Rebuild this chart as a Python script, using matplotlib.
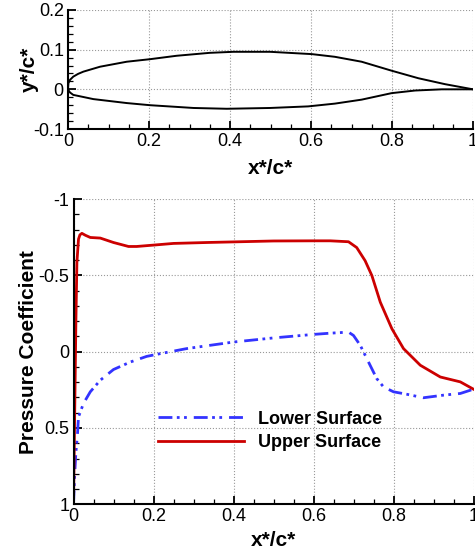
import matplotlib
matplotlib.use("Agg")
import matplotlib.pyplot as plt
from matplotlib.ticker import MultipleLocator

plt.rcParams['font.family'] = ['Liberation Sans', 'DejaVu Sans']

# Airfoil geometry
af_upper_x = [0.0, 0.001, 0.005, 0.013, 0.025, 0.038, 0.079, 0.145, 0.2025, 0.268, 0.35, 0.408, 0.499,
              0.602, 0.659, 0.725, 0.799, 0.865, 0.931, 1.0]
af_upper_y = [0.0, 0.0155, 0.024, 0.032, 0.039, 0.0446, 0.057, 0.0696, 0.076, 0.0846, 0.092, 0.0946, 0.0946,
              0.0888, 0.082, 0.0696, 0.047, 0.028, 0.013, 0.0]
af_lower_x = [0.0, 0.001, 0.005, 0.013, 0.0625, 0.145, 0.2025, 0.31, 0.392, 0.499, 0.593, 0.659, 0.725,
              0.799, 0.857, 0.923, 1.0]
af_lower_y = [0.0, -0.002, -0.008, -0.014, -0.0246, -0.0346, -0.040, -0.047, -0.049, -0.047, -0.043, -0.036,
              -0.026, -0.0096, -0.003, 0.0, 0.0]

# Pressure coefficient
cp_up_x = [0.0, 0.002, 0.004, 0.006, 0.0085, 0.0125, 0.016, 0.021, 0.03, 0.042, 0.067, 0.1, 0.1375, 0.158,
           0.2, 0.25, 0.333, 0.417, 0.5, 0.6, 0.642, 0.6875, 0.708, 0.729, 0.746, 0.767, 0.796, 0.825,
           0.867, 0.917, 0.967, 1.0]
cp_up = [1.0, 0.6, 0.2, -0.2, -0.585, -0.737, -0.765, -0.775, -0.762, -0.748, -0.744, -0.715, -0.689, -0.689,
         -0.698, -0.709, -0.715, -0.72, -0.725, -0.726, -0.726, -0.72, -0.682, -0.596, -0.498, -0.324, -0.15,
         -0.02, 0.089, 0.166, 0.198, 0.246]
cp_lo_x = [0.0, 0.003, 0.006, 0.01, 0.0125, 0.025, 0.042, 0.067, 0.1, 0.142, 0.183, 0.217, 0.283, 0.4, 0.5,
           0.6, 0.642, 0.6875, 0.7, 0.717, 0.7375, 0.758, 0.775, 0.8, 0.833, 0.875, 0.925, 0.967, 1.0]
cp_lo = [1.0, 0.8, 0.66, 0.54, 0.427, 0.339, 0.263, 0.187, 0.117, 0.068, 0.031, 0.013, -0.02, -0.063, -0.09,
         -0.113, -0.121, -0.128, -0.106, -0.041, 0.068, 0.176, 0.231, 0.263, 0.279, 0.302, 0.285, 0.274, 0.246]

fig = plt.figure(figsize=(4.75, 5.55), dpi=100)

def style(ax):
    for s in ['top', 'right']:
        ax.spines[s].set_visible(False)
    for s in ['bottom', 'left']:
        ax.spines[s].set_linewidth(1.5)
    ax.tick_params(which='major', direction='in', length=6, width=1.3, labelsize=13, pad=3)
    ax.tick_params(which='minor', direction='in', length=3.5, width=0.9)
    ax.grid(True, which='major', linestyle=':', color='#999999', linewidth=0.8)
    ax.set_axisbelow(True)

ax1 = fig.add_axes([68/475, 1-129/555, 405/475, 119/555])
ax1.plot(af_upper_x, af_upper_y, color='black', lw=1.4)
ax1.plot(af_lower_x, af_lower_y, color='black', lw=1.4)
ax1.set_xlim(0, 1)
ax1.set_ylim(-0.1, 0.2)
ax1.set_xticks([0, 0.2, 0.4, 0.6, 0.8, 1.0], ['0', '0.2', '0.4', '0.6', '0.8', '1'])
ax1.set_yticks([-0.1, 0, 0.1, 0.2], ['-0.1', '0', '0.1', '0.2'])
ax1.xaxis.set_minor_locator(MultipleLocator(0.05))
ax1.yaxis.set_minor_locator(MultipleLocator(0.02))
style(ax1)
ax1.set_xlabel('x*/c*', fontsize=15, fontweight='bold', labelpad=6)
ax1.set_ylabel('y*/c*', fontsize=15, fontweight='bold', labelpad=-4)

ax2 = fig.add_axes([73.5/475, 1-504.3/555, 400/475, 305.3/555])
ax2.plot(cp_lo_x, cp_lo, color='#3333ff', lw=2.0, linestyle=(0, (5, 1.6, 1, 1.6, 1, 2.5)), label='Lower Surface')
ax2.plot(cp_up_x, cp_up, color='#cc0000', lw=2.0, label='Upper Surface')
ax2.set_xlim(0, 1)
ax2.set_ylim(1, -1)
ax2.set_xticks([0, 0.2, 0.4, 0.6, 0.8, 1.0], ['0', '0.2', '0.4', '0.6', '0.8', '1'])
ax2.set_yticks([-1, -0.5, 0, 0.5, 1], ['-1', '-0.5', '0', '0.5', '1'])
ax2.xaxis.set_minor_locator(MultipleLocator(0.05))
ax2.yaxis.set_minor_locator(MultipleLocator(0.1))
style(ax2)
ax2.set_xlabel('x*/c*', fontsize=15, fontweight='bold', labelpad=4)
ax2.set_ylabel('Pressure Coefficient', fontsize=15, fontweight='bold', labelpad=0)
leg = ax2.legend(loc='upper left', bbox_to_anchor=(0.17, 0.36), frameon=False, fontsize=13,
                 handlelength=4.75, handletextpad=0.8, labelspacing=0.35)
for t in leg.get_texts():
    t.set_fontweight('bold')

fig.savefig('out.png', dpi=100)
